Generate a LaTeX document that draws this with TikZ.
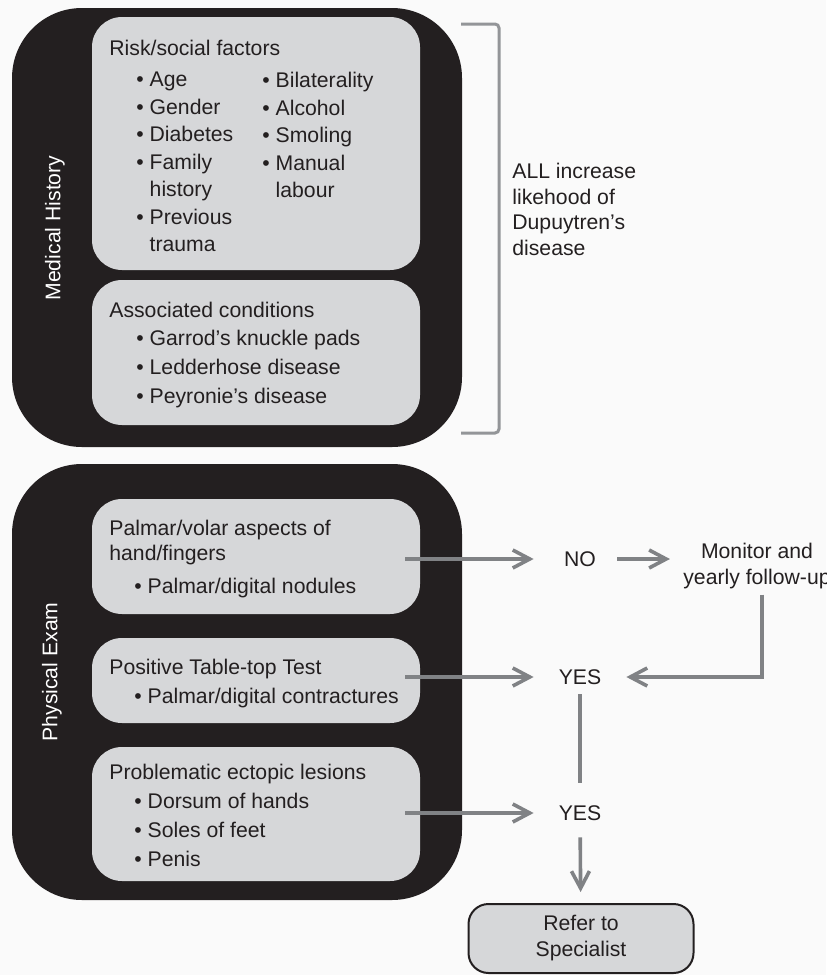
\documentclass[tikz,border=0pt]{standalone}
\usepackage{fontspec}
\setmainfont{Liberation Sans}
\usetikzlibrary{arrows.meta}
\definecolor{panelblack}{HTML}{231F20}
\definecolor{cardgray}{HTML}{D6D7D9}
\definecolor{flowgray}{HTML}{808285}
\definecolor{bracketgray}{HTML}{939598}
\definecolor{inkdark}{HTML}{231F20}
\definecolor{paper}{HTML}{FAFAFA}

\begin{document}
\begin{tikzpicture}[x=0.5pt, y=-0.5pt,
      every node/.style={font=\fontsize{10.6}{13.75}\selectfont, text=inkdark},
      leading/.style={font=\fontsize{10.6}{#1}\selectfont},
      panel/.style={fill=panelblack, rounded corners=35pt, inner sep=0, minimum width=225pt},
      card/.style={fill=cardgray, rounded corners=15pt, inner sep=0, minimum width=164pt},
      sidelabel/.style={rotate=90, text=white, inner sep=0},
      txt/.style={anchor=north west, inner sep=0, align=left},
      decision/.style={inner sep=0, minimum width=46pt, minimum height=17pt},
      flow/.style={draw=flowgray, line width=1.8pt, -{Straight Barb[length=8.5pt,width=9pt]}},
    ]
    \useasboundingbox (0,0) rectangle (826,975);
    \fill[paper] (0,0) rectangle (826,975);

    % Medical history panel
    \node[panel, minimum height=219.5pt] (history) at (237, 227.5) {};
    \node[card, minimum height=126.5pt] (risk)  at (256, 143.5) {};
    \node[card, minimum height=72.5pt]  (assoc) at (256, 352.5) {};
    \node[sidelabel] (historylabel) at (55, 228) {Medical History};

    \node[txt] (riskhead)  at (109, 40) {Risk/social factors};
    \node[txt] (riskleft)  at (136, 72) {• Age\\• Gender\\• Diabetes\\• Family\\\hphantom{• }history\\• Previous\\\hphantom{• }trauma};
    \node[txt] (riskright) at (262, 72) {• Bilaterality\\• Alcohol\\• Smoling\\• Manual\\\hphantom{• }labour};
    \node[txt] (assochead) at (109, 302) {Associated conditions};
    \node[txt, leading=14.5] (assoclist) at (136, 330)
      {• Garrod’s knuckle pads\\• Ledderhose disease\\• Peyronie’s disease};

    % Bracket and note
    \draw[bracketgray, line width=1.5pt, rounded corners=2pt]
      (461, 24) -- (499, 24) -- (499, 433) -- (461, 433);
    \node[txt, leading=12.75] (note) at (512, 163)
      {ALL increase\\likehood of\\Dupuytren’s\\disease};

    % Physical exam panel
    \node[panel, minimum height=218pt] (exam) at (237, 682) {};
    \node[card, minimum height=57.5pt] (palmar)   at (256, 556.5) {};
    \node[card, minimum height=42.5pt] (tabletop) at (256, 680.5) {};
    \node[card, minimum height=67pt]   (ectopic)  at (256, 814) {};
    \node[sidelabel] (examlabel) at (52, 672) {Physical Exam};

    \node[txt, leading=12.5] (palmarhead) at (109, 520) {Palmar/volar aspects of\\hand/fingers};
    \node[txt] (palmarlist)   at (134, 578) {• Palmar/digital nodules};
    \node[txt] (tabletophead) at (109, 659) {Positive Table-top Test};
    \node[txt] (tabletoplist) at (134, 688) {• Palmar/digital contractures};
    \node[txt] (ectopichead)  at (109, 764) {Problematic ectopic lesions};
    \node[txt, leading=14.5] (ectopiclist) at (134, 793)
      {• Dorsum of hands\\• Soles of feet\\• Penis};

    % Decisions
    \node[decision] (no)   at (580, 559) {NO};
    \node[decision] (yes1) at (580, 677) {YES};
    \node[decision] (yes2) at (580, 813) {YES};
    \node[anchor=north, inner sep=0, align=center, leading=13] (monitor) at (757, 543)
      {Monitor and\\yearly follow-up};
    \node[draw=inkdark, line width=1pt, fill=cardgray, rounded corners=10pt,
      minimum width=112.5pt, minimum height=34.5pt, align=center, leading=13]
      (refer) at (581, 938.5) {Refer to\\Specialist};

    % Flow
    \draw[flow, shorten <=-7.5pt] (no -| palmar.east) -- (no.west);
    \draw[flow, shorten <=-7.5pt] (yes1 -| tabletop.east) -- (yes1.west);
    \draw[flow, shorten <=-7.5pt] (yes2 -| ectopic.east) -- (yes2.west);
    \draw[flow, shorten <=-4.5pt, shorten >=6.5pt] (no.east) -- (no -| monitor.west);
    \draw[flow, shorten <=2.5pt] ([xshift=2.5pt]monitor.south) |- (yes1.east);
    \draw[flowgray, line width=1.8pt, shorten >=6.5pt] (yes1) -- (yes2);
    \draw[flow, shorten <=3.5pt, shorten >=5.5pt] (yes2) -- (refer);
  \end{tikzpicture}
\end{document}
